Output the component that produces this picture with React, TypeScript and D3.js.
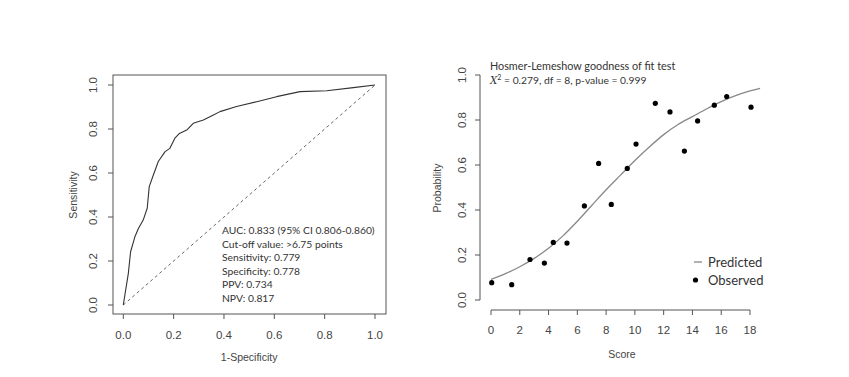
import React from "react";
import * as d3 from "d3";

// ROC curve (1-specificity, sensitivity)
const rocFpr = [0, 0.02, 0.029, 0.046, 0.06, 0.079, 0.095, 0.103, 0.119, 0.139, 0.166, 0.185, 0.205, 0.223, 0.252, 0.278, 0.318, 0.358, 0.384, 0.45, 0.53, 0.609, 0.702, 0.808, 0.914, 1];
const rocTpr = [0, 0.144, 0.242, 0.31, 0.348, 0.386, 0.44, 0.538, 0.59, 0.652, 0.697, 0.712, 0.758, 0.78, 0.795, 0.826, 0.841, 0.864, 0.879, 0.902, 0.924, 0.947, 0.97, 0.974, 0.988, 1];
const rocTicks = [0, 0.2, 0.4, 0.6, 0.8, 1.0];
const rocNotes = [
  "AUC: 0.833 (95% CI 0.806-0.860)",
  "Cut-off value: >6.75 points",
  "Sensitivity: 0.779",
  "Specificity: 0.778",
  "PPV: 0.734",
  "NPV: 0.817",
];

// Calibration plot
const obsScore = [0.05, 1.44, 2.71, 3.71, 4.33, 5.28, 6.49, 7.48, 8.36, 9.47, 10.08, 11.42, 12.44, 13.44, 14.36, 15.52, 16.38, 18.07];
const obsProb = [0.077, 0.068, 0.18, 0.164, 0.256, 0.253, 0.418, 0.607, 0.425, 0.585, 0.693, 0.874, 0.836, 0.662, 0.796, 0.866, 0.904, 0.857];
const predScore = [0, 1, 2, 3, 4, 5, 6, 7, 8, 9, 10, 11, 12, 13, 14, 15, 16, 17, 18, 18.7];
const predProb = [0.092, 0.117, 0.148, 0.185, 0.23, 0.285, 0.35, 0.42, 0.49, 0.555, 0.62, 0.68, 0.735, 0.78, 0.815, 0.85, 0.882, 0.908, 0.929, 0.941];
const scoreTicks = [0, 2, 4, 6, 8, 10, 12, 14, 16, 18];
const probTicks = [0, 0.2, 0.4, 0.6, 0.8, 1.0];

const axisFont = "'Liberation Sans', Arial, sans-serif";
const noteFont = "Lato, 'Open Sans', sans-serif";
const axisColor = "#555";
const textColor = "#444";

export default function App() {
  // left plot scales
  const lx = d3.scaleLinear().domain([0, 1]).range([123.3, 375]);
  const ly = d3.scaleLinear().domain([0, 1]).range([305, 85]);
  const rocLine = d3
    .line<number>()
    .x((_, i) => lx(rocFpr[i]))
    .y((_, i) => ly(rocTpr[i]));
  const rocPath = rocLine(rocFpr) || "";

  // right plot scales
  const rx = d3.scaleLinear().domain([0, 18]).range([491, 750]);
  const ry = d3.scaleLinear().domain([0, 1]).range([300, 75]);
  const predLine = d3
    .line<number>()
    .x((_, i) => rx(predScore[i]))
    .y((_, i) => ry(predProb[i]))
    .curve(d3.curveMonotoneX);
  const predPath = predLine(predScore) || "";

  const box = { x0: 113, x1: 386, y0: 75, y1: 314 };

  return (
    <svg
      width={849}
      height={377}
      style={{ position: "absolute", left: 0, top: 0, background: "#fff" }}
    >
      <rect x={0} y={0} width={849} height={377} fill="#fff" />

      {/* ===== Left: ROC ===== */}
      <rect x={box.x0} y={box.y0} width={box.x1 - box.x0} height={box.y1 - box.y0} fill="none" stroke={axisColor} strokeWidth={1} />
      <line x1={lx(0)} y1={ly(0)} x2={lx(1)} y2={ly(1)} stroke="#555" strokeWidth={0.9} strokeDasharray="3,3" />
      <path d={rocPath} fill="none" stroke="#333" strokeWidth={1.1} strokeLinejoin="round" />
      {rocTicks.map((t) => (
        <g key={"lxt" + t}>
          <line x1={lx(t)} x2={lx(t)} y1={box.y1} y2={box.y1 + 5} stroke={axisColor} />
          <text x={lx(t)} y={339} textAnchor="middle" fontFamily={axisFont} fontSize={11.5} fill={textColor}>
            {t.toFixed(1)}
          </text>
        </g>
      ))}
      {rocTicks.map((t) => (
        <g key={"lyt" + t}>
          <line x1={box.x0} x2={box.x0 - 5} y1={ly(t)} y2={ly(t)} stroke={axisColor} />
          <text
            transform={`translate(97,${ly(t)}) rotate(-90)`}
            textAnchor="middle"
            fontFamily={axisFont}
            fontSize={11.5}
            fill={textColor}
          >
            {t.toFixed(1)}
          </text>
        </g>
      ))}
      <text x={(lx(0) + lx(1)) / 2} y={361} textAnchor="middle" fontFamily={axisFont} fontSize={10.5} fill={textColor}>
        1-Specificity
      </text>
      <text transform={`translate(77,${(ly(0) + ly(1)) / 2}) rotate(-90)`} textAnchor="middle" fontFamily={axisFont} fontSize={10.5} fill={textColor}>
        Sensitivity
      </text>
      {rocNotes.map((s, i) => (
        <text key={s} x={222} y={234 + i * 13.6} fontFamily={noteFont} fontSize={10.3} fill="#333">
          {s}
        </text>
      ))}

      {/* ===== Right: calibration ===== */}
      <line x1={480} x2={480} y1={ry(0)} y2={ry(1)} stroke={axisColor} />
      {probTicks.map((t) => (
        <g key={"ryt" + t}>
          <line x1={480} x2={475} y1={ry(t)} y2={ry(t)} stroke={axisColor} />
          <text
            transform={`translate(466,${ry(t)}) rotate(-90)`}
            textAnchor="middle"
            fontFamily={axisFont}
            fontSize={11.5}
            fill={textColor}
          >
            {t.toFixed(1)}
          </text>
        </g>
      ))}
      <line x1={rx(0)} x2={rx(18)} y1={310} y2={310} stroke={axisColor} />
      {scoreTicks.map((t) => (
        <g key={"rxt" + t}>
          <line x1={rx(t)} x2={rx(t)} y1={310} y2={315} stroke={axisColor} />
          <text x={rx(t)} y={334} textAnchor="middle" fontFamily={axisFont} fontSize={11.5} fill={textColor}>
            {t}
          </text>
        </g>
      ))}
      <text x={622} y={358} textAnchor="middle" fontFamily={axisFont} fontSize={10.5} fill={textColor}>
        Score
      </text>
      <text transform={`translate(441,188) rotate(-90)`} textAnchor="middle" fontFamily={axisFont} fontSize={10.5} fill={textColor}>
        Probability
      </text>
      <path d={predPath} fill="none" stroke="#888" strokeWidth={1.3} />
      {obsScore.map((s, i) => (
        <circle key={"o" + i} cx={rx(s)} cy={ry(obsProb[i])} r={2.6} fill="#000" />
      ))}
      <text x={490} y={70} fontFamily={noteFont} fontSize={10.8} fill="#333">
        Hosmer-Lemeshow goodness of fit test
      </text>
      <text x={490} y={84} fontFamily={noteFont} fontSize={10.3} fill="#333">
        <tspan fontStyle="italic" fontFamily="'DejaVu Serif', serif">X</tspan>
        <tspan fontSize={7} dy={-4}>2</tspan>
        <tspan dy={4}> = 0.279, df = 8, p-value = 0.999</tspan>
      </text>
      {/* legend */}
      <line x1={694} x2={702} y1={262} y2={262} stroke="#888" strokeWidth={1.3} />
      <text x={708} y={266.5} fontFamily={noteFont} fontSize={13} fill="#333">
        Predicted
      </text>
      <circle cx={695.5} cy={280} r={2.6} fill="#000" />
      <text x={708} y={284.5} fontFamily={noteFont} fontSize={13} fill="#333">
        Observed
      </text>
    </svg>
  );
}
